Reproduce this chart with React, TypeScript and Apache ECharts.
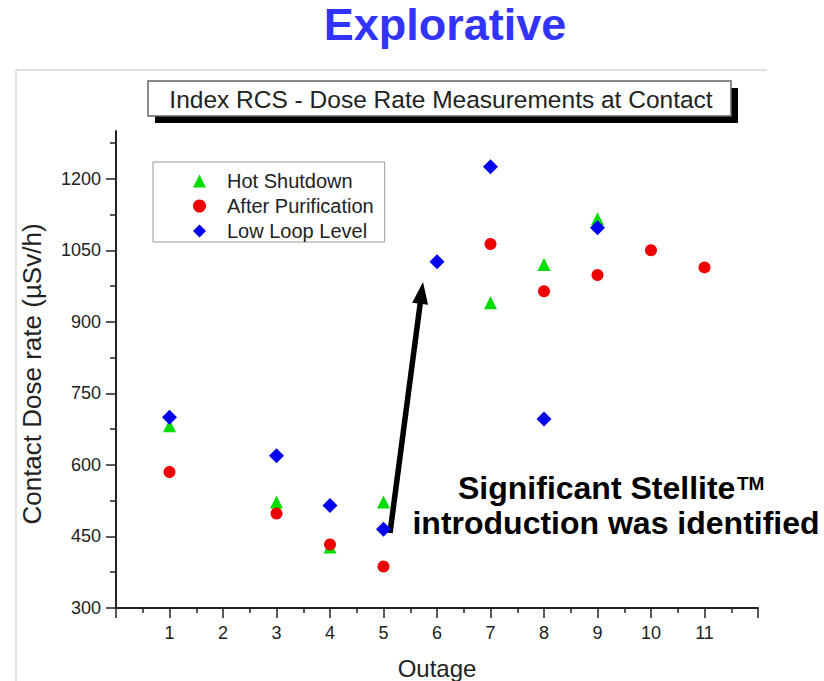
import React, { useEffect, useRef } from "react";
import * as echarts from "echarts";

// ---- Data ----
const xTickLabels = [1, 2, 3, 4, 5, 6, 7, 8, 9, 10, 11];
const yTickValues = [300, 450, 600, 750, 900, 1050, 1200];
const yMinorTickValues = [375, 525, 675, 825, 975, 1125, 1275];
const seriesNames = ["Hot Shutdown", "After Purification", "Low Loop Level"];
const hotShutdown = [[1, 682], [3, 522], [4, 428], [5, 522], [7, 940], [8, 1020], [9, 1116]];
const afterPurification = [[1, 585], [3, 498], [4, 433], [5, 387], [7, 1063], [8, 964], [9, 998], [10, 1050], [11, 1014]];
const lowLoopLevel = [[1, 700], [3, 619], [4, 515], [5, 465], [6, 1026], [7, 1225], [8, 696], [9, 1097]];

const FONT = "'Liberation Sans', Arial, Helvetica, sans-serif";
const AXIS = "#222";

export default function App() {
  const ref = useRef<HTMLDivElement>(null);

  useEffect(() => {
    if (!ref.current) return;
    const chart = echarts.init(ref.current, undefined, { renderer: "svg" });

    // arrow geometry (annotation)
    const tail = [390, 533];
    const tip = [423, 282];
    const dx = tip[0] - tail[0];
    const dy = tip[1] - tail[1];
    const len = Math.sqrt(dx * dx + dy * dy);
    const ux = dx / len;
    const uy = dy / len;
    const headLen = 22;
    const headHalf = 8;
    const bx = tip[0] - ux * headLen;
    const by = tip[1] - uy * headLen;
    const px = -uy;
    const py = ux;

    chart.setOption({
      animation: false,
      backgroundColor: "#ffffff",
      grid: { left: 116, right: 66, top: 131, bottom: 73, containLabel: false, outerBoundsMode: "none" },
      legend: {
        orient: "vertical",
        left: 153,
        top: 162,
        padding: [9, 11, 1, 40],
        itemWidth: 13,
        itemHeight: 13,
        itemGap: 5,
        borderColor: "#999",
        borderWidth: 1,
        backgroundColor: "#fff",
        textStyle: { fontSize: 20, color: AXIS, fontFamily: FONT, padding: [0, 0, 0, 16], lineHeight: 20 },
        data: seriesNames,
      },
      xAxis: {
        type: "value",
        min: 0,
        max: 12,
        interval: 1,
        name: "Outage",
        nameLocation: "middle",
        nameGap: 48,
        nameTextStyle: { fontSize: 24, color: AXIS, fontFamily: FONT },
        axisLine: { show: true, lineStyle: { color: AXIS, width: 2 } },
        axisTick: { show: true, length: 10, lineStyle: { color: AXIS, width: 1.5 } },
        minorTick: { show: true, splitNumber: 2, length: 5, lineStyle: { color: AXIS, width: 1.5 } },
        axisLabel: { customValues: xTickLabels, fontSize: 18, color: AXIS, fontFamily: FONT, margin: 16 },
        splitLine: { show: false },
      },
      yAxis: [
        {
          type: "value",
          min: 300,
          max: 1300,
          axisLine: { show: true, lineStyle: { color: AXIS, width: 2 } },
          axisTick: { show: true, customValues: yTickValues, length: 10, lineStyle: { color: AXIS, width: 1.5 } },
          axisLabel: {
            customValues: yTickValues,
            formatter: (v: number) => String(v),
            fontSize: 18,
            color: AXIS,
            fontFamily: FONT,
            margin: 15,
          },
          splitLine: { show: false },
        },
        {
          type: "value",
          min: 300,
          max: 1300,
          position: "left",
          axisLine: { show: false },
          axisTick: { show: true, customValues: yMinorTickValues, length: 6, lineStyle: { color: AXIS, width: 1.5 } },
          axisLabel: { show: false },
          splitLine: { show: false },
        },
      ],
      series: [
        {
          name: seriesNames[0],
          type: "scatter",
          symbol: "triangle",
          symbolSize: 13,
          itemStyle: { color: "#00dd00", opacity: 1 },
          data: hotShutdown,
          z: 2,
        },
        {
          name: seriesNames[1],
          type: "scatter",
          symbol: "circle",
          symbolSize: 12,
          itemStyle: { color: "#ee0000", opacity: 1 },
          data: afterPurification,
          z: 3,
        },
        {
          name: seriesNames[2],
          type: "scatter",
          symbol: "diamond",
          symbolSize: 15,
          itemStyle: { color: "#0000ee", opacity: 1 },
          data: lowLoopLevel,
          z: 4,
        },
      ],
      graphic: [
        { type: "line", shape: { x1: 16, y1: 70, x2: 767, y2: 70 }, style: { stroke: "#c0c0c0", lineWidth: 1 }, silent: true },
        { type: "line", shape: { x1: 16, y1: 70, x2: 16, y2: 681 }, style: { stroke: "#c8c8c8", lineWidth: 1 }, silent: true },
        // Y axis title
        {
          type: "text",
          x: 32,
          y: 374,
          rotation: Math.PI / 2,
          style: { text: "Contact Dose rate (µSv/h)", font: `26px ${FONT}`, fill: AXIS, textAlign: "center", textVerticalAlign: "middle" },
          silent: true,
        },
        // Main heading with drop shadow
        {
          type: "text",
          x: 445,
          y: 24,
          style: {
            text: "Explorative",
            font: `bold 45px ${FONT}`,
            fill: "#3333ff",
            textAlign: "center",
            textVerticalAlign: "middle",
            shadowColor: "rgba(0,0,0,0.4)",
            shadowBlur: 2,
            shadowOffsetX: 2,
            shadowOffsetY: 2,
          },
          silent: true,
        },
        // Chart title box with shadow
        { type: "rect", shape: { x: 155, y: 88, width: 583, height: 35 }, style: { fill: "#000" }, silent: true },
        { type: "rect", shape: { x: 148, y: 81, width: 583, height: 35 }, style: { fill: "#fff", stroke: "#666", lineWidth: 1.5 }, silent: true },
        {
          type: "text",
          x: 441,
          y: 99,
          style: { text: "Index RCS - Dose Rate Measurements at Contact", font: `24.5px ${FONT}`, fill: "#222", textAlign: "center", textVerticalAlign: "middle" },
          silent: true,
        },
        // Arrow annotation
        {
          type: "line",
          shape: { x1: tail[0], y1: tail[1], x2: bx + ux * 2, y2: by + uy * 2 },
          style: { stroke: "#000", lineWidth: 5.5 },
          silent: true,
        },
        {
          type: "polygon",
          shape: { points: [[tip[0], tip[1]], [bx + px * headHalf, by + py * headHalf], [bx - px * headHalf, by - py * headHalf]] },
          style: { fill: "#000" },
          silent: true,
        },
        // Annotation text
        {
          type: "text",
          x: 458,
          y: 488,
          style: { text: "Significant Stellite", font: `bold 32px ${FONT}`, fill: "#000", textAlign: "left", textVerticalAlign: "middle" },
          silent: true,
        },
        {
          type: "text",
          x: 737,
          y: 483,
          style: { text: "TM", font: `bold 19px ${FONT}`, fill: "#000", textAlign: "left", textVerticalAlign: "middle" },
          silent: true,
        },
        {
          type: "text",
          x: 616,
          y: 523,
          style: { text: "introduction was identified", font: `bold 32px ${FONT}`, fill: "#000", textAlign: "center", textVerticalAlign: "middle" },
          silent: true,
        },
      ],
    });

    return () => chart.dispose();
  }, []);

  return <div ref={ref} style={{ position: "absolute", left: 0, top: 0, width: 824, height: 681 }} />;
}
